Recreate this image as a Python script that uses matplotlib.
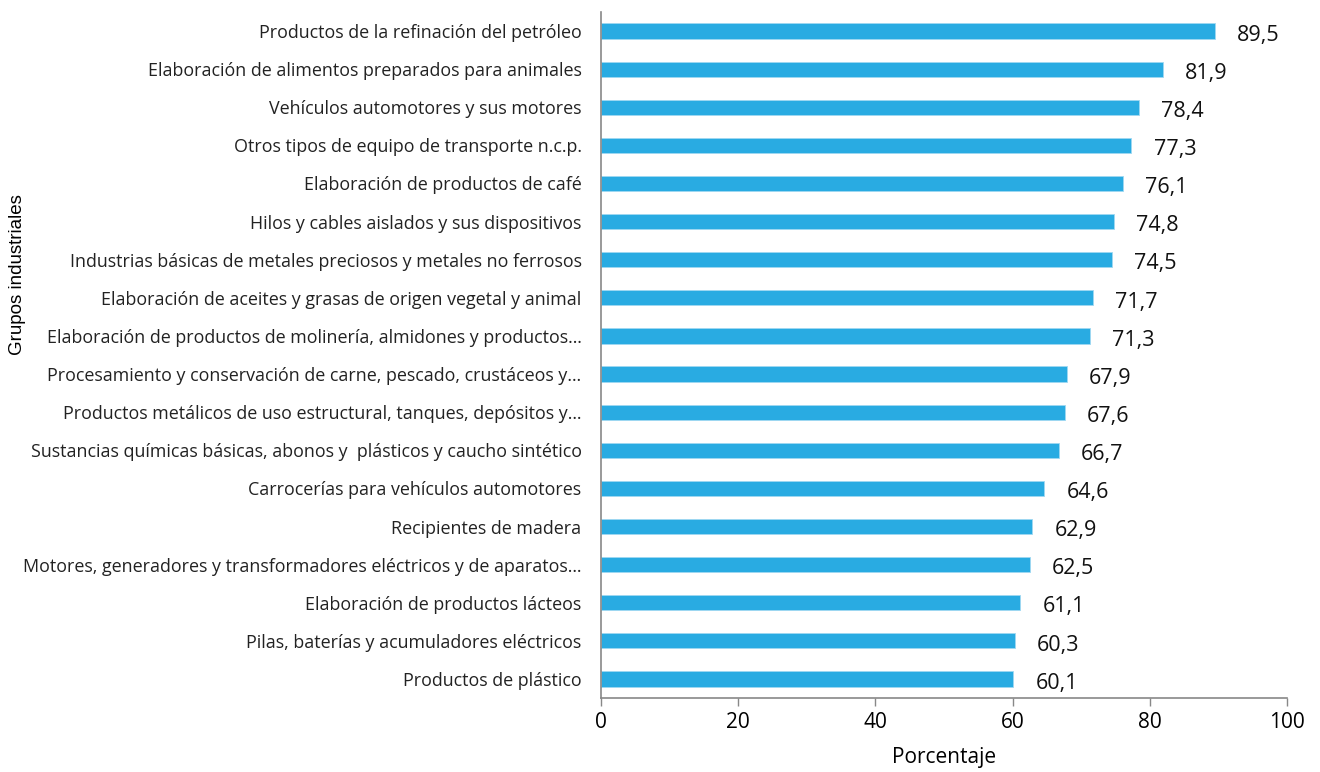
import matplotlib
matplotlib.use("Agg")
import matplotlib.pyplot as plt

categories = [
    "Productos de la refinación del petróleo",
    "Elaboración de alimentos preparados para animales",
    "Vehículos automotores y sus motores",
    "Otros tipos de equipo de transporte n.c.p.",
    "Elaboración de productos de café",
    "Hilos y cables aislados y sus dispositivos",
    "Industrias básicas de metales preciosos y metales no ferrosos",
    "Elaboración de aceites y grasas de origen vegetal y animal",
    "Elaboración de productos de molinería, almidones y productos…",
    "Procesamiento y conservación de carne, pescado, crustáceos y…",
    "Productos metálicos de uso estructural, tanques, depósitos y…",
    "Sustancias químicas básicas, abonos y  plásticos y caucho sintético",
    "Carrocerías para vehículos automotores",
    "Recipientes de madera",
    "Motores, generadores y transformadores eléctricos y de aparatos…",
    "Elaboración de productos lácteos",
    "Pilas, baterías y acumuladores eléctricos",
    "Productos de plástico",
]
values = [89.5, 81.9, 78.4, 77.3, 76.1, 74.8, 74.5, 71.7, 71.3, 67.9, 67.6, 66.7,
          64.6, 62.9, 62.5, 61.1, 60.3, 60.1]
value_labels = [f"{v:.1f}".replace(".", ",") for v in values]
xticks = [0, 20, 40, 60, 80, 100]

W, H = 1320, 772
fig = plt.figure(figsize=(W / 100, H / 100), dpi=100)
ax = fig.add_axes([601 / W, 1 - 698 / H, (1287 - 601) / W, (698 - 12) / H])

n = len(categories)
ypos = list(range(n))[::-1]
color = "#29ABE2"
ax.barh(ypos, values, height=0.4, color=color, edgecolor="#9fd8f2", linewidth=0.6)
ax.set_ylim(-0.5, n - 0.5)
ax.set_xlim(0, 100)

ax.set_yticks(ypos)
ax.set_yticklabels(categories, fontsize=12.9, family=["Open Sans", "DejaVu Sans"], color="#222222")
ax.tick_params(axis="y", length=0, pad=14)

ax.set_xticks(xticks)
ax.set_xticklabels([str(t) for t in xticks], fontsize=15, family=["Open Sans", "DejaVu Sans"])
ax.tick_params(axis="x", length=6, width=1, color="#888888", direction="out", pad=4)

for s in ["top", "right"]:
    ax.spines[s].set_visible(False)
for s in ["left", "bottom"]:
    ax.spines[s].set_color("#888888")
    ax.spines[s].set_linewidth(1.2)

for y, v, lab in zip(ypos, values, value_labels):
    ax.annotate(lab, xy=(v, y), xytext=(16, -3), textcoords="offset points",
                ha="left", va="center", fontsize=15.5,
                family=["Open Sans", "DejaVu Sans"], color="#111111")

ax.set_xlabel("Porcentaje", fontsize=15, family=["Open Sans", "DejaVu Sans"], labelpad=10)
fig.text(18 / W, 1 - 275 / H, "Grupos industriales", rotation=90, ha="center", va="center",
         fontsize=13.5, family=["Liberation Sans", "DejaVu Sans"])

fig.savefig("out.png", dpi=100)
